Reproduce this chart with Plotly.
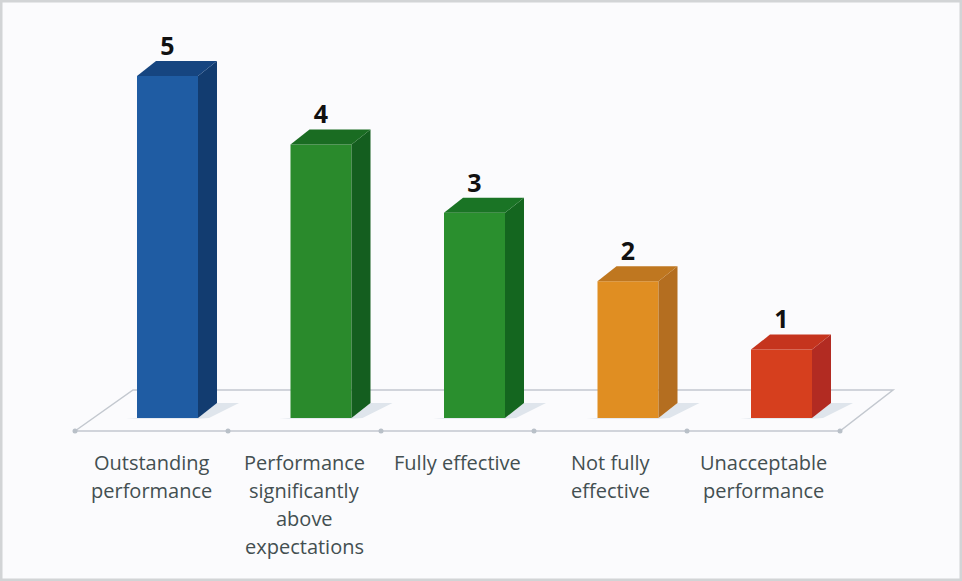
import plotly.graph_objects as go

categories = ["Outstanding performance", "Performance significantly above expectations",
              "Fully effective", "Not fully effective", "Unacceptable performance"]
label_lines = [["Outstanding", "performance"],
               ["Performance", "significantly", "above", "expectations"],
               ["Fully effective"],
               ["Not fully", "effective"],
               ["Unacceptable", "performance"]]
values = [5, 4, 3, 2, 1]
front_colors = ["#1F5CA3", "#2A8A2C", "#2A8F2E", "#E08E22", "#D63F1E"]
side_colors = ["#123C70", "#145E1F", "#14661F", "#B46E20", "#B22B22"]
top_colors = ["#164580", "#1A6C22", "#1A7425", "#BF7720", "#C5341E"]

W, H = 962, 581
PX_X, PX_Y = 153.5, 68.4          # pixels per category / per value unit
X0_PX, Y0_PX = 167.5, 418
BAR_W = 61 / PX_X
DX, DY = 19 / PX_X, 15 / PX_Y     # 3D depth in axis units
idx = list(range(len(values)))

FL_FRONT, FL_BACK = (418 - 431) / PX_Y, (418 - 390) / PX_Y
FL_X = [(75 - X0_PX) / PX_X, (133 - X0_PX) / PX_X, (893 - X0_PX) / PX_X, (840 - X0_PX) / PX_X]
TICKS = [FL_X[0] + k * (FL_X[3] - FL_X[0]) / 5 for k in range(6)]

fig = go.Figure()
fig.add_trace(go.Bar(x=idx, y=values, width=BAR_W, marker=dict(color=front_colors, line=dict(width=0)),
                     customdata=categories, hovertemplate="%{customdata}: %{y}<extra></extra>", showlegend=False))

for i, v in zip(idx, values):
    x0, x1 = i - BAR_W / 2, i + BAR_W / 2
    fig.add_trace(go.Scatter(x=[x1, x1 + DX, x1 + DX, x1, x1], y=[0, DY, v + DY, v, 0], fill="toself",
                             mode="none", fillcolor=side_colors[i], hoverinfo="skip", showlegend=False))
    fig.add_trace(go.Scatter(x=[x0, x0 + DX, x1 + DX, x1, x0], y=[v, v + DY, v + DY, v, v], fill="toself",
                             mode="none", fillcolor=top_colors[i], hoverinfo="skip", showlegend=False))

fig.add_trace(go.Scatter(x=idx, y=[v + DY for v in values], mode="text",
                         text=[str(v) for v in values], textposition="top center",
                         textfont=dict(family="Open Sans", size=25, color="#111111", weight="bold"),
                         hoverinfo="skip", showlegend=False))
fig.add_trace(go.Scatter(x=TICKS, y=[FL_FRONT] * len(TICKS), mode="markers",
                         marker=dict(size=5, color="#B9C0C8"), hoverinfo="skip", showlegend=False))

shapes = [
    dict(type="rect", xref="paper", yref="paper", x0=0, x1=1, y0=0, y1=1, layer="below",
         fillcolor="#FBFBFD", line=dict(color="#D2D4D6", width=5)),
    dict(type="path", xref="x", yref="y", layer="below", line=dict(color="#C3C8CF", width=1.5),
         fillcolor="rgba(0,0,0,0)",
         path=f"M{FL_X[0]},{FL_FRONT} L{FL_X[1]},{FL_BACK} L{FL_X[2]},{FL_BACK} L{FL_X[3]},{FL_FRONT} Z"),
]
for i in idx:
    x0, x1 = i - BAR_W / 2, i + BAR_W / 2
    sx = 22 / PX_X
    shapes.append(dict(type="path", xref="x", yref="y", layer="below", line=dict(width=0),
                       fillcolor="#DFE5EC",
                       path=f"M{x0 - sx / 2},{0} L{x1},{0} L{x1 + DX},{DY} L{x1 + DX + sx},{DY} L{x1 + sx / 2},{0} L{x1},{-0.01} L{x0},{-0.01} Z"))

annotations = []
for i, lines in zip(idx, label_lines):
    cx = (TICKS[i] + TICKS[i + 1]) / 2
    for n, line in enumerate(lines):
        annotations.append(dict(x=cx, y=(418 - 462) / PX_Y, yshift=-28.3 * n, xref="x", yref="y", text=line,
                                showarrow=False, xanchor="center", yanchor="middle",
                                font=dict(family="Open Sans", size=20, color="#434F51")))

fig.update_layout(
    width=W, height=H, margin=dict(l=0, r=0, t=0, b=0), autosize=False,
    paper_bgcolor="#FBFBFD", plot_bgcolor="rgba(0,0,0,0)", shapes=shapes, annotations=annotations,
    xaxis=dict(visible=False, range=[-X0_PX / PX_X, (W - X0_PX) / PX_X], fixedrange=True),
    yaxis=dict(visible=False, range=[(Y0_PX - H) / PX_Y, Y0_PX / PX_Y], fixedrange=True),
    barmode="overlay",
)
fig.write_html("out.html", config=dict(displayModeBar=False),
               post_script="document.body.style.margin='0';document.body.style.overflow='hidden';")
